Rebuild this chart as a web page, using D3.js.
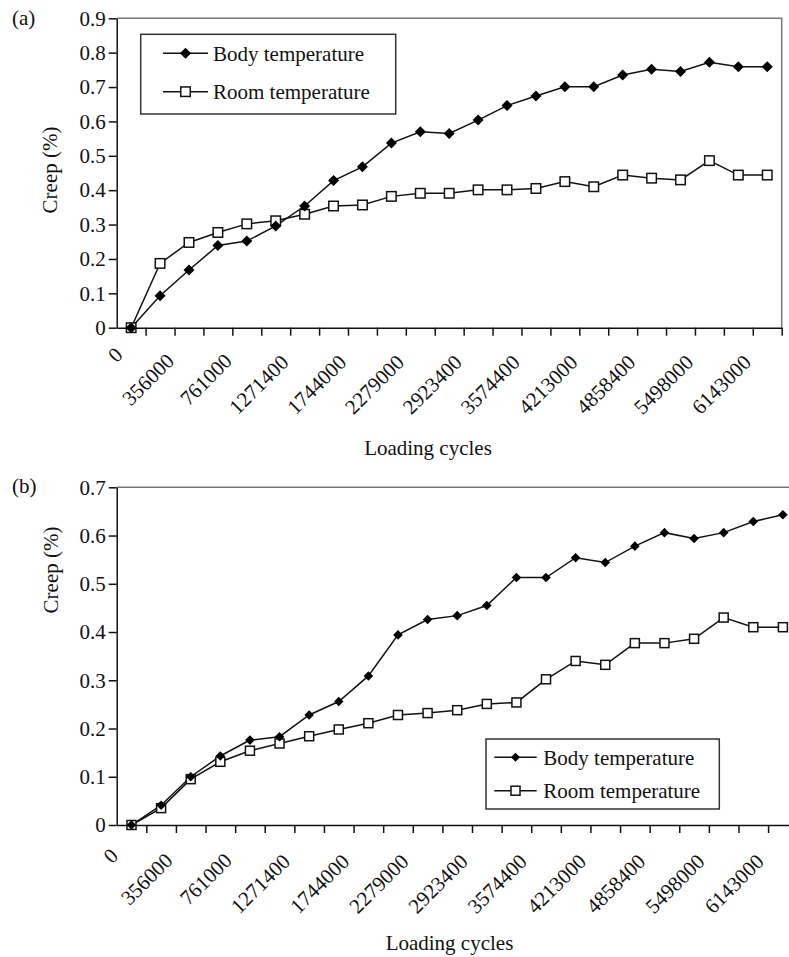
<!DOCTYPE html>
<html>
<head>
<meta charset="utf-8">
<title>Creep vs loading cycles</title>
<script src="https://cdn.jsdelivr.net/npm/d3@7"></script>
<style>
  body { margin: 0; background: #fff; }
  svg text { font-family: "Liberation Serif", "Times New Roman", serif; }
</style>
</head>
<body>
<div id="chart"></div>
<script>
  // categories on the x axis (23 loading steps, every other one labelled)
  const nCategories = 23
  const cycleLabels = ["0", "356000", "761000", "1271400", "1744000", "2279000",
    "2923400", "3574400", "4213000", "4858400", "5498000", "6143000"]
  const seriesNames = ["Body temperature", "Room temperature"]

  // panel (a)
  const bodyA = [0, 0.093, 0.168, 0.239, 0.252, 0.296, 0.354, 0.428, 0.468, 0.537, 0.570,
    0.565, 0.604, 0.646, 0.674, 0.701, 0.701, 0.735, 0.752, 0.745, 0.772, 0.759, 0.759]
  const roomA = [0, 0.187, 0.248, 0.277, 0.302, 0.311, 0.330, 0.354, 0.357, 0.382, 0.391,
    0.391, 0.401, 0.401, 0.405, 0.425, 0.410, 0.444, 0.435, 0.430, 0.486, 0.444, 0.444]

  // panel (b)
  const bodyB = [0, 0.041, 0.100, 0.143, 0.176, 0.183, 0.228, 0.256, 0.309, 0.394, 0.426,
    0.434, 0.455, 0.513, 0.513, 0.554, 0.544, 0.578, 0.606, 0.594, 0.606, 0.629, 0.643]
  const roomB = [0, 0.035, 0.095, 0.131, 0.154, 0.169, 0.184, 0.198, 0.211, 0.228, 0.232,
    0.238, 0.251, 0.254, 0.302, 0.340, 0.332, 0.377, 0.377, 0.386, 0.430, 0.410, 0.410]

  const width = 789
  const height = 957
  const serif = "Liberation Serif"

  const svg = d3.select("#chart").append("svg")
    .attr("width", width)
    .attr("height", height)

  function diamondPath(r) {
    return `M0,${-r}L${r},0L0,${r}L${-r},0Z`
  }

  function drawPanel(opt) {
    const g = svg.append("g")

    const x = d3.scaleBand()
      .domain(d3.range(nCategories))
      .range([opt.left, opt.right])
      .padding(0)
    const xEdges = d3.scaleLinear().domain([0, nCategories]).range([opt.left, opt.right])
    const y = d3.scaleLinear().domain([0, opt.ymax]).range([opt.bottom, opt.top])
    const cx = i => x(i) + x.bandwidth() / 2

    // plot area border (top + right)
    g.append("path")
      .attr("d", `M${opt.left},${opt.top}H${opt.right}V${opt.bottom}`)
      .attr("fill", "none")
      .attr("stroke", "#777")
      .attr("stroke-width", 1.5)

    // y axis
    const yAxis = g.append("g")
      .attr("transform", `translate(${opt.left},0)`)
      .call(d3.axisLeft(y)
        .tickValues(d3.range(0, opt.ymax + 0.001, 0.1))
        .tickFormat(d => d < 0.001 ? "0" : d3.format(".1f")(d))
        .tickSize(8).tickPadding(3).tickSizeOuter(0))
    yAxis.attr("font-family", serif)
    yAxis.selectAll("text").attr("font-size", 21).attr("fill", "#111")

    // x axis (ticks between categories)
    g.append("g")
      .attr("transform", `translate(0,${opt.bottom})`)
      .call(d3.axisBottom(xEdges)
        .tickValues(d3.range(1, nCategories + 1))
        .tickFormat("")
        .tickSize(8).tickSizeOuter(0))
    g.selectAll(".domain, .tick line").attr("stroke", "#111").attr("stroke-width", 1.5)

    // rotated category labels on every other category
    cycleLabels.forEach((lab, k) => {
      const i = k * 2
      const t = g.append("text")
        .attr("transform", `translate(${cx(i) + opt.labDx},${opt.bottom + opt.labDy}) rotate(-45)`)
        .attr("text-anchor", "end")
        .attr("font-family", serif)
        .attr("font-size", 21)
        .attr("fill", "#111")
        .text(lab)
      const len = t.node().getComputedTextLength()
      t.attr("x", -opt.labK * len)
    })

    // series lines and markers
    const line = d3.line().x((d, i) => cx(i)).y(d => y(d))
    const series = [opt.body, opt.room]
    series.forEach(s => {
      g.append("path")
        .datum(s)
        .attr("d", line)
        .attr("fill", "none")
        .attr("stroke", "#111")
        .attr("stroke-width", 1.5)
    })

    g.append("g").selectAll("rect")
      .data(opt.room)
      .join("rect")
      .attr("x", (d, i) => cx(i) - opt.sq / 2)
      .attr("y", d => y(d) - opt.sq / 2)
      .attr("width", opt.sq)
      .attr("height", opt.sq)
      .attr("fill", "#fff")
      .attr("stroke", "#111")
      .attr("stroke-width", 1.5)

    g.append("g").selectAll("path")
      .data(opt.body)
      .join("path")
      .attr("d", diamondPath(opt.dia))
      .attr("transform", (d, i) => `translate(${cx(i)},${y(d)})`)
      .attr("fill", "#000")

    // legend
    const lg = g.append("g")
    lg.append("rect")
      .attr("x", opt.leg.x).attr("y", opt.leg.y)
      .attr("width", opt.leg.w).attr("height", opt.leg.h)
      .attr("fill", "#fff")
      .attr("stroke", "#333")
      .attr("stroke-width", 1.5)
    seriesNames.forEach((name, k) => {
      const ry = opt.leg.rows[k]
      lg.append("line")
        .attr("x1", opt.leg.x1).attr("x2", opt.leg.x2)
        .attr("y1", ry).attr("y2", ry)
        .attr("stroke", "#111").attr("stroke-width", 1.5)
      const mx = (opt.leg.x1 + opt.leg.x2) / 2
      if (k === 0) {
        lg.append("path")
          .attr("d", diamondPath(opt.legDia))
          .attr("transform", `translate(${mx},${ry})`)
          .attr("fill", "#000")
      } else {
        lg.append("rect")
          .attr("x", mx - opt.sq / 2).attr("y", ry - opt.sq / 2)
          .attr("width", opt.sq).attr("height", opt.sq)
          .attr("fill", "#fff").attr("stroke", "#111").attr("stroke-width", 1.5)
      }
      lg.append("text")
        .attr("x", opt.leg.tx)
        .attr("y", ry)
        .attr("dy", "0.35em")
        .attr("font-family", serif)
        .attr("font-size", 21)
        .attr("fill", "#111")
        .text(name)
    })

    // titles
    g.append("text")
      .attr("x", 12).attr("y", opt.tagY)
      .attr("font-family", serif)
      .attr("font-size", 21).attr("fill", "#111")
      .text(opt.tag)
    g.append("text")
      .attr("transform", `translate(${opt.yTitleX},${opt.yTitleY}) rotate(-90)`)
      .attr("text-anchor", "middle")
      .attr("font-family", serif)
      .attr("font-size", 21).attr("fill", "#111")
      .text("Creep (%)")
    g.append("text")
      .attr("x", opt.xTitleX).attr("y", opt.xTitleY)
      .attr("text-anchor", "middle")
      .attr("font-family", serif)
      .attr("font-size", 21).attr("fill", "#111")
      .text("Loading cycles")
  }

  drawPanel({
    tag: "(a)", tagY: 25,
    left: 116.7, right: 781.7, top: 18.3, bottom: 327.7, ymax: 0.9,
    body: bodyA, room: roomA,
    labDx: -6, labDy: 27, labK: 0.17,
    sq: 9.5, dia: 5.5, legDia: 5.5,
    leg: { x: 140.7, y: 34.3, w: 255, h: 79.7, rows: [53.3, 91.7], x1: 163, x2: 208, tx: 213 },
    yTitleX: 57, yTitleY: 170,
    xTitleX: 428, xTitleY: 455
  })

  drawPanel({
    tag: "(b)", tagY: 493,
    left: 116.7, right: 797.7, top: 487.3, bottom: 825, ymax: 0.7,
    body: bodyB, room: roomB,
    labDx: -11, labDy: 31, labK: 0.13,
    sq: 9, dia: 4.8, legDia: 4.5,
    leg: { x: 486, y: 739, w: 233.3, h: 70, rows: [757.3, 790.7], x1: 494.3, x2: 536.7, tx: 543.3 },
    yTitleX: 58, yTitleY: 570,
    xTitleX: 449.5, xTitleY: 950
  })
</script>
</body>
</html>
